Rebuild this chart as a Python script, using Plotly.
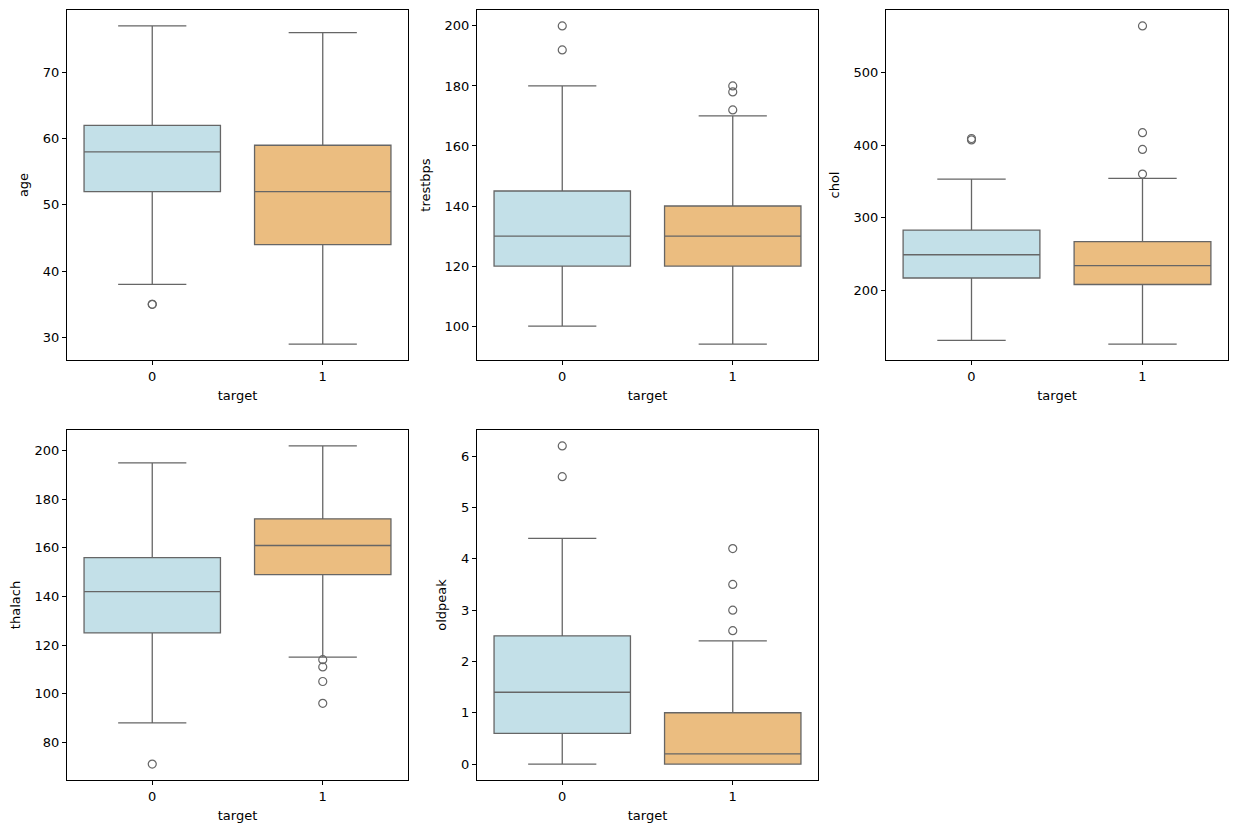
import plotly.graph_objects as go

# ---- data ----
features = ["age", "trestbps", "chol", "thalach", "oldpeak"]
targets = [0, 1]

q1 = {"age": [52, 44], "trestbps": [120, 120], "chol": [217, 208], "thalach": [125, 149], "oldpeak": [0.6, 0.0]}
median = {"age": [58, 52], "trestbps": [130, 130], "chol": [249, 234], "thalach": [142, 161], "oldpeak": [1.4, 0.2]}
q3 = {"age": [62, 59], "trestbps": [145, 140], "chol": [283, 267], "thalach": [156, 172], "oldpeak": [2.5, 1.0]}
lower = {"age": [38, 29], "trestbps": [100, 94], "chol": [131, 126], "thalach": [88, 115], "oldpeak": [0.0, 0.0]}
upper = {"age": [77, 76], "trestbps": [180, 170], "chol": [353, 354], "thalach": [195, 202], "oldpeak": [4.4, 2.4]}
outliers = {
    "age": [[35, 35], []],
    "trestbps": [[192, 200], [172, 178, 180]],
    "chol": [[407, 409], [360, 394, 417, 564]],
    "thalach": [[71], [114, 111, 105, 96]],
    "oldpeak": [[5.6, 6.2], [2.6, 3.0, 3.5, 4.2]],
}
yticks = {
    "age": [30, 40, 50, 60, 70],
    "trestbps": [100, 120, 140, 160, 180, 200],
    "chol": [200, 300, 400, 500],
    "thalach": [80, 100, 120, 140, 160, 180, 200],
    "oldpeak": [0, 1, 2, 3, 4, 5, 6],
}

colors = ["#c3e0e8", "#ebbd80"]
edge = "#666666"

OFF = 8  # browser body margin
W, H = 1238 - 2 * OFF, 833 - 2 * OFF
panels = {  # page-pixel boxes: x0, x1, y0(top), y1(bottom)
    "age": (67, 408, 10, 360),
    "trestbps": (477, 818, 10, 360),
    "chol": (886, 1228, 10, 360),
    "thalach": (67, 408, 430, 780),
    "oldpeak": (477, 818, 430, 780),
}

fig = go.Figure()
layout = {}
font = dict(family="DejaVu Sans", size=13, color="black")

for i, f in enumerate(features):
    n = "" if i == 0 else str(i + 1)
    xa, ya = "x" + n, "y" + n
    for j, t in enumerate(targets):
        fig.add_trace(go.Box(
            x=[t], q1=[q1[f][j]], median=[median[f][j]], q3=[q3[f][j]],
            lowerfence=[lower[f][j]], upperfence=[upper[f][j]],
            width=0.8, whiskerwidth=0.5,
            fillcolor=colors[j], line=dict(color=edge, width=1.3),
            boxpoints=False, showlegend=False, hoverinfo="skip",
            xaxis=xa, yaxis=ya,
        ))
        if outliers[f][j]:
            fig.add_trace(go.Scatter(
                x=[t] * len(outliers[f][j]), y=outliers[f][j], mode="markers",
                marker=dict(symbol="circle-open", size=8, color=edge, line=dict(width=1.2)),
                showlegend=False, hoverinfo="skip", xaxis=xa, yaxis=ya,
            ))
    vals = lower[f] + upper[f] + [v for o in outliers[f] for v in o]
    lo, hi = min(vals), max(vals)
    pad = (hi - lo) * 0.05
    x0, x1, y0, y1 = [v - OFF for v in panels[f]]
    common = dict(showline=True, linecolor="black", linewidth=1, mirror=True,
                  ticks="outside", ticklen=4, tickcolor="black", showgrid=False,
                  zeroline=False, tickfont=font)
    layout["xaxis" + n] = dict(
        domain=[x0 / W, x1 / W], anchor=ya, range=[-0.5, 1.5],
        tickvals=targets, ticktext=[str(t) for t in targets],
        title=dict(text="target", font=font, standoff=8), **common)
    layout["yaxis" + n] = dict(
        domain=[1 - y1 / H, 1 - y0 / H], anchor=xa, range=[lo - pad, hi + pad],
        tickvals=yticks[f], title=dict(text=f, font=font, standoff=11), **common)

fig.update_layout(
    width=W, height=H, margin=dict(l=0, r=0, t=0, b=0),
    plot_bgcolor="white", paper_bgcolor="white", font=font,
    **layout,
)
fig.write_html("out.html")
